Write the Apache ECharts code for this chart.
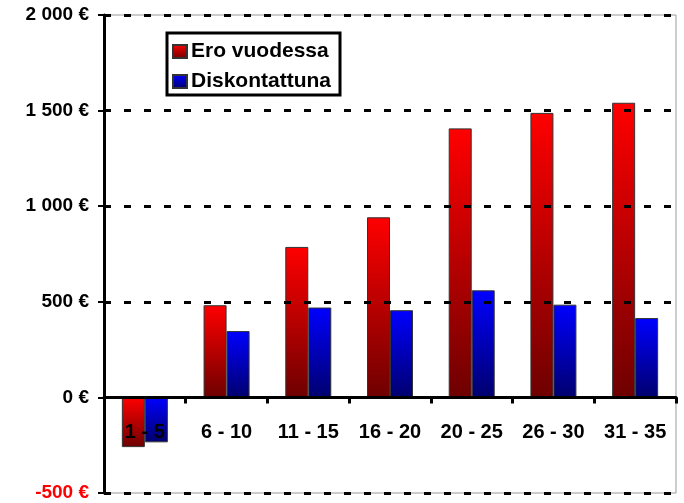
<!DOCTYPE html>
<html><head><meta charset="utf-8">
<script src="https://cdn.jsdelivr.net/npm/echarts@6/dist/echarts.min.js"></script>
<style>html,body{margin:0;padding:0;background:#fff}#c{width:684px;height:503px}</style>
</head><body><div id="c"></div>
<script>
const categories = ['1 - 5','6 - 10','11 - 15','16 - 20','20 - 25','26 - 30','31 - 35'];
const eroVuodessa = [-260, 482, 787, 942, 1407, 1488, 1541];
const diskontattuna = [-235, 347, 470, 456, 560, 485, 415];
const seriesNames = ['Ero vuodessa', 'Diskontattuna'];

function grad(top, bottom){
  return new echarts.graphic.LinearGradient(0,0,0,1,[{offset:0,color:top},{offset:1,color:bottom}]);
}
const chart = echarts.init(document.getElementById('c'), null, {renderer:'canvas'});
const font = 'Arial, "Liberation Sans", sans-serif';
const fmt = v=>{const s=Math.abs(v).toString().replace(/\B(?=(\d{3})+(?!\d))/g,' ');return (v<0?'-':'')+s+' €';};
chart.setOption({
  animation:false,
  grid:{left:104,right:8,top:15,bottom:10,show:true,borderColor:'#999',borderWidth:1,containLabel:false,outerBoundsMode:'none'},
  legend:{
    orient:'vertical', left:167, top:33,
    padding:[8,9,3,5], itemGap:9,
    itemWidth:14, itemHeight:13,
    borderColor:'#000', borderWidth:3, backgroundColor:'#fff',
    textStyle:{fontFamily:font,fontWeight:'bold',fontSize:21,color:'#000',padding:[0,0,0,-1]},
    data:[{name:seriesNames[0],icon:'rect'},{name:seriesNames[1],icon:'rect'}]
  },
  xAxis:{
    type:'category', data:categories, z:10,
    axisLine:{onZero:true,lineStyle:{color:'#000',width:3}},
    axisTick:{show:true,length:6,lineStyle:{color:'#000',width:3}},
    axisLabel:{margin:-71,fontFamily:font,fontWeight:'bold',fontSize:20,color:'#000'},
    splitLine:{show:false}
  },
  yAxis:[{
    type:'value', min:-500, max:2000, interval:500, z:10,
    axisLine:{show:true,onZero:false,lineStyle:{color:'#000',width:3}},
    axisTick:{show:true,length:6,lineStyle:{color:'#000',width:2}},
    axisLabel:{margin:15,fontFamily:font,fontWeight:'bold',fontSize:19,
      color:v=>v<0?'#ff0000':'#000', formatter:fmt},
    splitLine:{show:true,lineStyle:{color:'#000',width:3,type:[7,13]}}
  },{
    type:'value', min:-500, max:2000, interval:500, position:'left', z:10,
    axisLine:{show:false},
    axisTick:{show:true,inside:true,length:6,lineStyle:{color:'#000',width:2}},
    axisLabel:{show:false}, splitLine:{show:false}
  }],
  series:[
    {name:seriesNames[0],type:'bar',data:eroVuodessa,barWidth:23,barGap:'0%',
     itemStyle:{color:grad('#ff0000','#6e0000'),borderColor:'#333',borderWidth:1}},
    {name:seriesNames[1],type:'bar',data:diskontattuna,barWidth:23,
     itemStyle:{color:grad('#0000ff','#00006e'),borderColor:'#333',borderWidth:1}}
  ]
});
</script></body></html>
